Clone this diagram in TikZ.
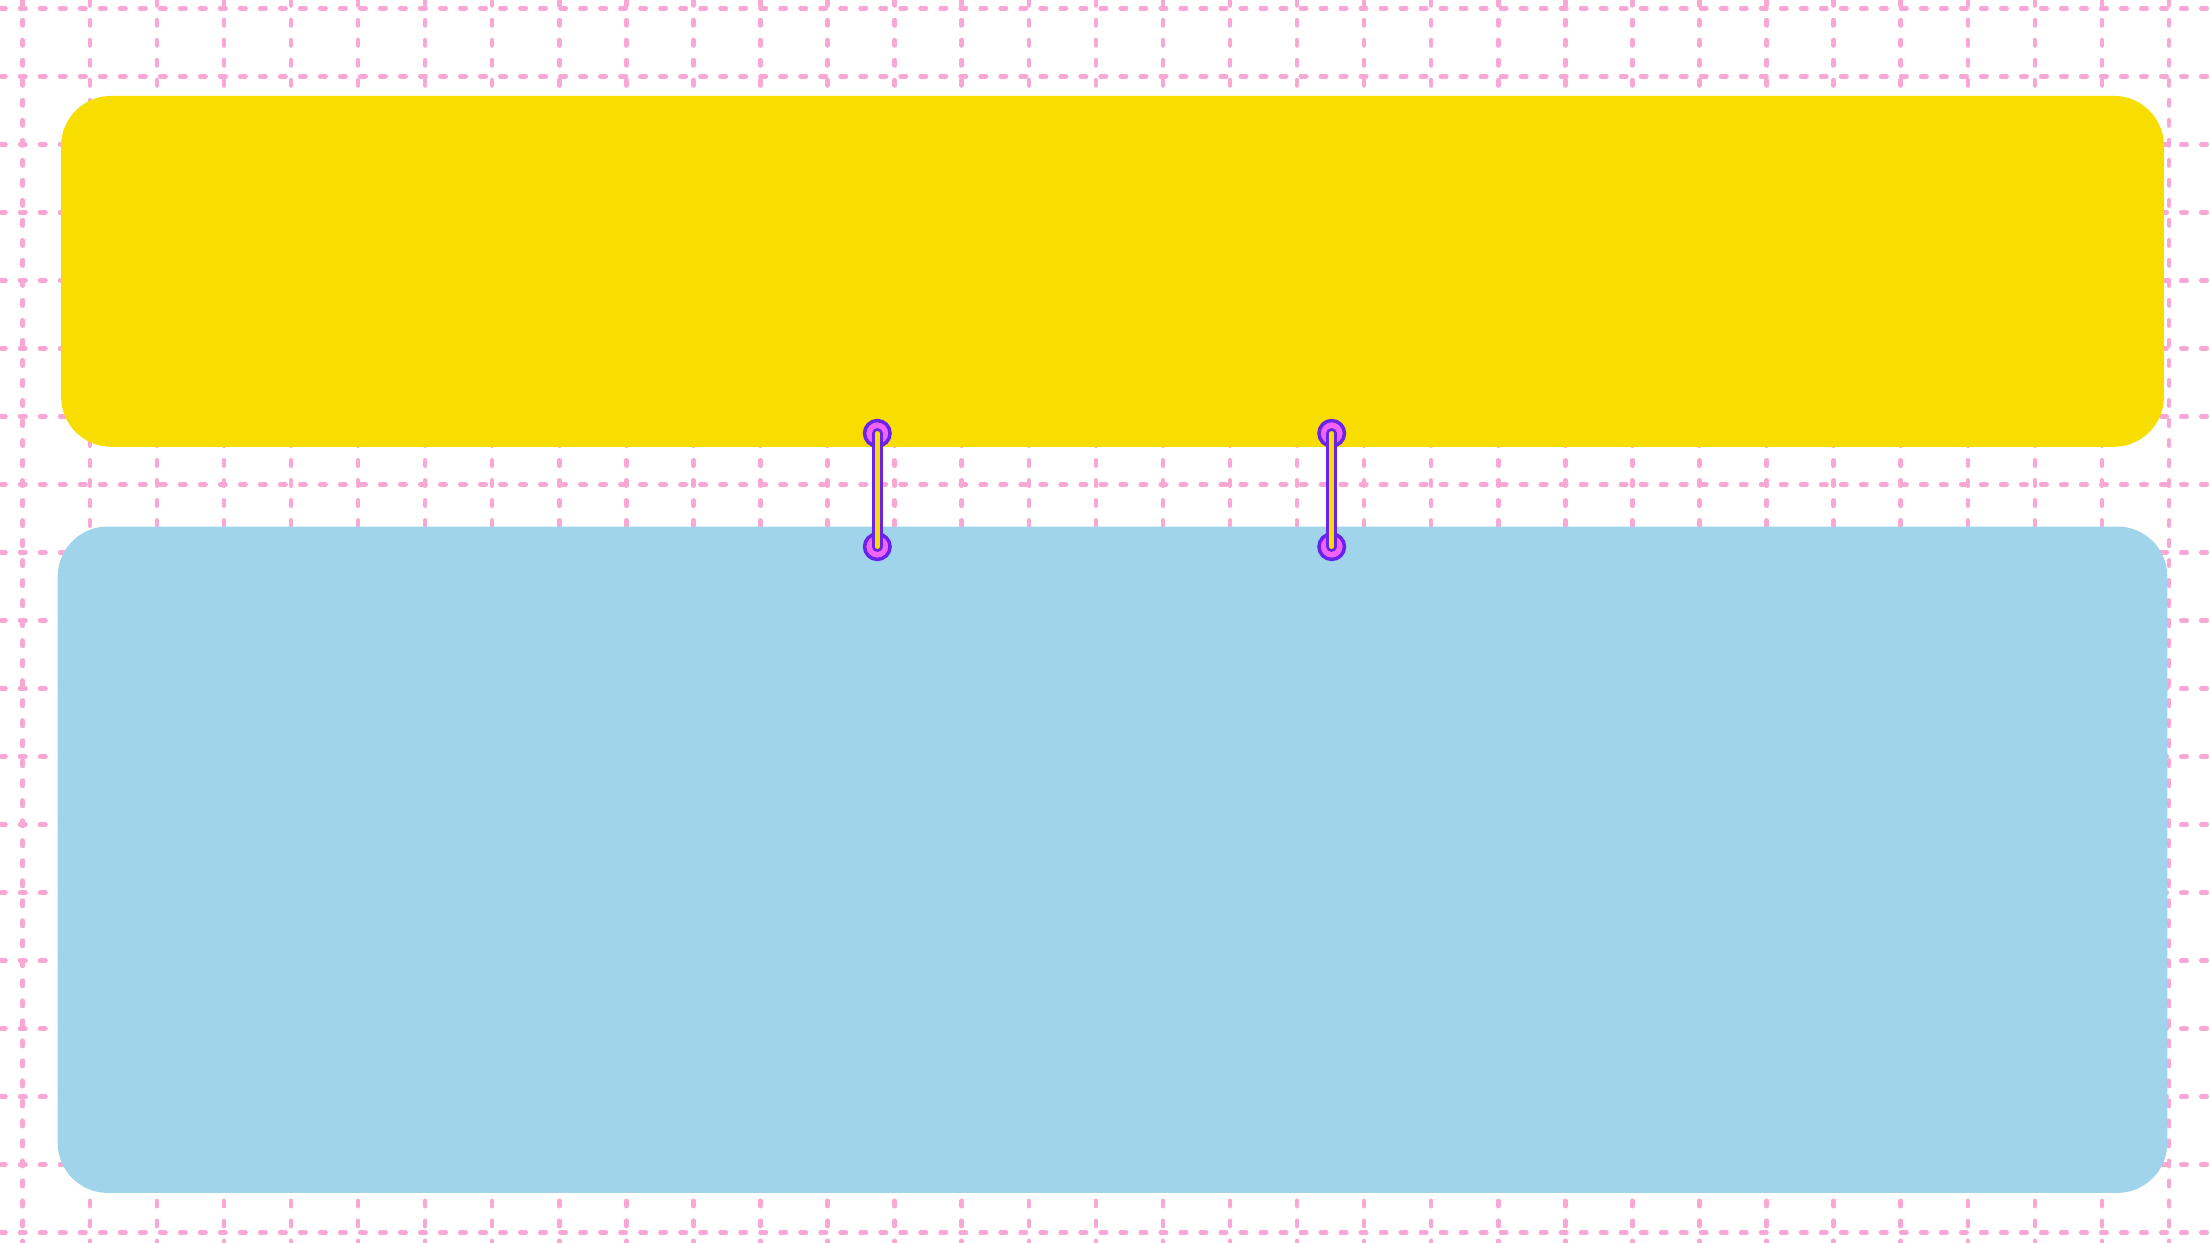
\documentclass[tikz,border=0pt]{standalone}
\definecolor{gridpink}{RGB}{249,168,212}
\definecolor{boxyellow}{RGB}{248,222,0}
\definecolor{boxblue}{RGB}{159,212,235}
\definecolor{pinfill}{RGB}{240,100,250}
\definecolor{pinline}{RGB}{105,35,235}
\tikzset{
  gridline/.style={draw=gridpink, line width=0.045cm, line cap=round, dash pattern=on 0.055cm off 0.145cm},
  panel/.style={draw=none, inner sep=0pt, outer sep=0pt, rounded corners=0.5cm, rectangle},
  pin/.style={circle, draw=pinline, fill=pinfill, line width=0.035cm, minimum size=0.255cm, inner sep=0pt},
  conn/.style={draw=pinline, line width=0.03cm, double=boxyellow, double distance=0.045cm, line cap=round}
}
\begin{document}
\begin{tikzpicture}[x=0.01cm, y=-0.01cm]
\useasboundingbox (0,0) rectangle (2210,1243);
\fill[white] (0,0) rectangle (2210,1243);
% grid
\foreach \i in {0,...,32} {
  \draw[gridline] ({22.7+67.07*\i},0) -- ({22.7+67.07*\i},1243);
}
\foreach \j in {0,...,18} {
  \draw[gridline] (0,{8.3+68.02*\j}) -- (2210,{8.3+68.02*\j});
}
% panels
\node[panel, fill=boxyellow, minimum width=21.016cm, minimum height=3.507cm] (top) at (1112.5,271.35) {};
\node[panel, fill=boxblue, minimum width=21.084cm, minimum height=6.66cm] (bottom) at (1112.5,859.7) {};
% pins
\node[pin] (p1t) at (877.3,433.3) {};
\node[pin] (p1b) at (877.3,546.7) {};
\node[pin] (p2t) at (1331.7,433.3) {};
\node[pin] (p2b) at (1331.7,546.7) {};
\draw[conn] (p1t.center) -- (p1b.center);
\draw[conn] (p2t.center) -- (p2b.center);
\end{tikzpicture}
\end{document}
